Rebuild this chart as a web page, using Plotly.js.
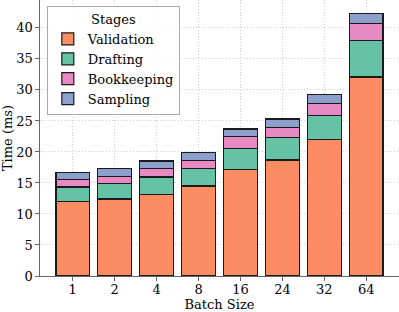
<!DOCTYPE html>
<html><head><meta charset="utf-8">
<script src="https://cdn.plot.ly/plotly-3.0.1.min.js"></script>
<style>html,body{margin:0;padding:0;background:#fff;}#chart{width:399px;height:312px;}</style>
</head><body><div id="chart"></div>
<script>
const batchSizes = ["1","2","4","8","16","24","32","64"];
const validation = [12.0, 12.4, 13.2, 14.5, 17.2, 18.7, 22.0, 32.1];
const drafting = [2.35, 2.5, 2.75, 2.8, 3.4, 3.6, 3.9, 5.9];
const bookkeeping = [1.25, 1.2, 1.35, 1.35, 1.85, 1.7, 1.9, 2.7];
const sampling = [1.05, 1.2, 1.25, 1.3, 1.25, 1.3, 1.45, 1.65];
const stageNames = ["Validation","Drafting","Bookkeeping","Sampling"];
const stageColors = ["#fc8d62","#66c2a5","#e78ac3","#8da0cb"];
const series = [validation, drafting, bookkeeping, sampling];

const traces = series.map((vals, i) => ({
  type: "bar", x: batchSizes, y: vals, name: stageNames[i],
  marker: {color: stageColors[i], line: {color: "#1a1a1a", width: 1.2}}
}));

const font = {family: "DejaVu Serif, serif", size: 13, color: "#000"};
const gridStyle = {showgrid: true, gridcolor: "#cfcfcf", griddash: "1px,2px", gridwidth: 1};
const layout = {
  width: 399, height: 312,
  margin: {l: 40, r: 0, t: 0, b: 36},
  barmode: "stack", bargap: 0.2,
  paper_bgcolor: "#fff", plot_bgcolor: "#fff",
  font: font,
  showlegend: true,
  legend: {
    x: 0.019, y: 0.978, xanchor: "left", yanchor: "top",
    traceorder: "normal",
    bgcolor: "rgba(255,255,255,0.85)", bordercolor: "#aaa", borderwidth: 1,
    font: font,
    title: {text: "Stages", side: "top center", font: font}
  },
  xaxis: Object.assign({
    type: "category", range: [-0.78, 7.78],
    title: {text: "Batch Size", font: font, standoff: 5},
    showline: true, linecolor: "#666", linewidth: 1.2,
    ticks: "outside", ticklen: 3.5, tickcolor: "#666",
    ticklabelstandoff: -2,
    tickfont: font, zeroline: false
  }, gridStyle),
  yaxis: Object.assign({
    range: [0, 44.5], dtick: 5,
    title: {text: "Time (ms)", font: font, standoff: 4},
    showline: true, linecolor: "#666", linewidth: 1.2,
    ticks: "outside", ticklen: 3.5, tickcolor: "#666",
    tickfont: font, zeroline: false
  }, gridStyle)
};
Plotly.newPlot("chart", traces, layout, {displayModeBar: false, staticPlot: true});
</script></body></html>
